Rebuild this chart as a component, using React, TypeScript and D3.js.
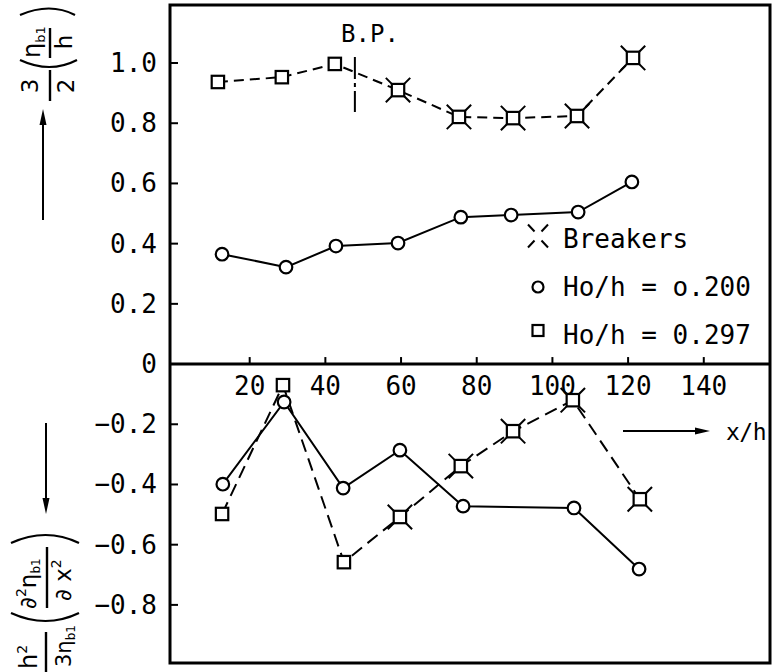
import React from "react";
import * as d3 from "d3";

const W = 772;
const H = 672;

// Upper panel: 3/2 (η_b1 / h) against x/h
const upperCircleX = [12.7, 29.6, 42.8, 59.2, 75.8, 89.1, 106.8, 121.0];
const upperCircleY = [0.365, 0.322, 0.392, 0.402, 0.488, 0.495, 0.505, 0.605];
const upperSquareX = [11.6, 28.5, 42.5, 59.2, 75.3, 89.6, 106.5, 121.3];
const upperSquareY = [0.937, 0.953, 0.997, 0.91, 0.821, 0.817, 0.824, 1.017];
const upperSquareBreaker = [false, false, false, true, true, true, true, true];

// Lower panel: h²/(3η_b1) (∂²η_b1/∂x²) against x/h
const lowerCircleX = [12.9, 29.1, 44.7, 59.7, 76.4, 105.7, 122.9];
const lowerCircleY = [-0.399, -0.126, -0.412, -0.286, -0.472, -0.478, -0.681];
const lowerSquareX = [12.7, 28.8, 44.9, 59.7, 75.8, 89.6, 105.4, 123.1];
const lowerSquareY = [-0.498, -0.07, -0.658, -0.508, -0.339, -0.223, -0.12, -0.449];
const lowerSquareBreaker = [false, false, false, true, true, true, true, true];

const xTicks = [20, 40, 60, 80, 100, 120, 140];
const yTicks = [1.0, 0.8, 0.6, 0.4, 0.2, 0, -0.2, -0.4, -0.6, -0.8];
const breakPointX = 47.8;

const legendItems = ["Breakers", "Ho/h = o.200", "Ho/h = 0.297"];

const FONT = "'DejaVu Sans Mono', monospace";
const SANS = "'DejaVu Sans', sans-serif";

const frame = { left: 170, right: 770, top: 5, bottom: 663 };

const x = d3.scaleLinear().domain([-1.057, 157.5]).range([frame.left, frame.right]);
const y = d3.scaleLinear().domain([-0.993, 1.1927]).range([frame.bottom, frame.top]);

const line = d3
  .line<[number, number]>()
  .x((d) => x(d[0]))
  .y((d) => y(d[1]));

const zip = (xs: number[], ys: number[]): [number, number][] =>
  xs.map((v, i) => [v, ys[i]]);

function Circle({ cx, cy }: { cx: number; cy: number }) {
  return <circle cx={cx} cy={cy} r={6.3} fill="#fff" stroke="#000" strokeWidth={2.2} />;
}

function Square({ cx, cy, breaker }: { cx: number; cy: number; breaker?: boolean }) {
  const s = 6.2;
  return (
    <g>
      <rect x={cx - s} y={cy - s} width={2 * s} height={2 * s} fill="#fff" stroke="#000" strokeWidth={2.2} />
      {breaker &&
        [
          [-1, -1],
          [1, -1],
          [-1, 1],
          [1, 1],
        ].map(([dx, dy], i) => (
          <line
            key={i}
            x1={cx + dx * s}
            y1={cy + dy * s}
            x2={cx + dx * (s + 6)}
            y2={cy + dy * (s + 6)}
            stroke="#000"
            strokeWidth={2}
          />
        ))}
    </g>
  );
}

function BreakerSymbol({ cx, cy }: { cx: number; cy: number }) {
  return (
    <g>
      {[
        [-1, -1],
        [1, -1],
        [-1, 1],
        [1, 1],
      ].map(([dx, dy], i) => (
        <line
          key={i}
          x1={cx + dx * 3.5}
          y1={cy + dy * 4.5}
          x2={cx + dx * 10}
          y2={cy + dy * 11.5}
          stroke="#000"
          strokeWidth={2}
        />
      ))}
    </g>
  );
}

export default function App() {
  const uc = zip(upperCircleX, upperCircleY);
  const us = zip(upperSquareX, upperSquareY);
  const lc = zip(lowerCircleX, lowerCircleY);
  const ls = zip(lowerSquareX, lowerSquareY);
  const fmt = (v: number) => (v === 0 ? "0" : d3.format(".1f")(v));
  const y0 = y(0);

  return (
    <svg
      width={W}
      height={H}
      viewBox={`0 0 ${W} ${H}`}
      style={{ position: "absolute", left: 0, top: 0, background: "#fff" }}
    >
      <rect width={W} height={H} fill="#fff" />

      {/* frame */}
      <rect
        x={frame.left}
        y={frame.top}
        width={frame.right - frame.left}
        height={frame.bottom - frame.top}
        fill="none"
        stroke="#000"
        strokeWidth={3}
      />
      {/* zero line acting as the x axis */}
      <line x1={frame.left} x2={frame.right} y1={y0} y2={y0} stroke="#000" strokeWidth={3} />

      {/* x ticks and labels */}
      {xTicks.map((t) => (
        <g key={t}>
          <line x1={x(t)} x2={x(t)} y1={y0} y2={y0 - 7} stroke="#000" strokeWidth={2} />
          <text x={x(t)} y={y0 + 31} textAnchor="middle" fontFamily={FONT} fontSize={26}>
            {t}
          </text>
        </g>
      ))}

      {/* y ticks and labels */}
      {yTicks.map((t) => (
        <g key={t}>
          {t !== 0 && (
            <line x1={frame.left} x2={frame.left + 8} y1={y(t)} y2={y(t)} stroke="#000" strokeWidth={2} />
          )}
          <text x={157} y={y(t) + 9} textAnchor="end" fontFamily={FONT} fontSize={26}>
            {fmt(t)}
          </text>
        </g>
      ))}

      {/* breaking point marker */}
      <line
        x1={x(breakPointX)}
        x2={x(breakPointX)}
        y1={57}
        y2={112}
        stroke="#000"
        strokeWidth={2}
        strokeDasharray="22,4,4,4"
      />
      <text x={370} y={42} textAnchor="middle" fontFamily={FONT} fontSize={24}>
        B.P.
      </text>

      {/* series lines */}
      <path d={line(us) || ""} fill="none" stroke="#000" strokeWidth={2} strokeDasharray="10,6" />
      <path d={line(uc) || ""} fill="none" stroke="#000" strokeWidth={2} />
      <path d={line(ls) || ""} fill="none" stroke="#000" strokeWidth={2} strokeDasharray="13,7" />
      <path d={line(lc) || ""} fill="none" stroke="#000" strokeWidth={2} />

      {/* markers */}
      {us.map((d, i) => (
        <Square key={`us${i}`} cx={x(d[0])} cy={y(d[1])} breaker={upperSquareBreaker[i]} />
      ))}
      {uc.map((d, i) => (
        <Circle key={`uc${i}`} cx={x(d[0])} cy={y(d[1])} />
      ))}
      {ls.map((d, i) => (
        <Square key={`ls${i}`} cx={x(d[0])} cy={y(d[1])} breaker={lowerSquareBreaker[i]} />
      ))}
      {lc.map((d, i) => (
        <Circle key={`lc${i}`} cx={x(d[0])} cy={y(d[1])} />
      ))}

      {/* legend */}
      <BreakerSymbol cx={538} cy={236} />
      <circle cx={538} cy={287} r={5.5} fill="#fff" stroke="#000" strokeWidth={2.2} />
      <rect x={532.5} y={325} width={11} height={11} fill="#fff" stroke="#000" strokeWidth={2.2} />
      {legendItems.map((t, i) => (
        <text key={t} x={563} y={248 + i * 48} fontFamily={FONT} fontSize={26}>
          {t}
        </text>
      ))}

      {/* x-axis direction label */}
      <line x1={623} x2={698} y1={431} y2={431} stroke="#000" strokeWidth={2} />
      <polygon points="710,431 695,427.5 695,434.5" fill="#000" />
      <text x={726} y={440} fontFamily={FONT} fontSize={23} letterSpacing={-0.5}>
        x/h
      </text>

      {/* upper y-axis label: 3/2 (η_b1/h) */}
      <line x1={43} x2={43} y1={220} y2={122} stroke="#000" strokeWidth={2} />
      <polygon points="43,109 39.5,125 46.5,125" fill="#000" />
      <g transform="translate(50,0) rotate(-90)" fontFamily={SANS}>
        <text x={-86} y={-12} textAnchor="middle" fontSize={23}>3</text>
        <line x1={-101} x2={-70} y1={0} y2={0} stroke="#000" strokeWidth={2.4} />
        <text x={-86} y={24} textAnchor="middle" fontSize={23}>2</text>
        <path d="M-60,-30 Q-74,0 -60,27" fill="none" stroke="#000" strokeWidth={2.2} />
        <text x={-58} y={-10} fontSize={24}>
          η<tspan fontSize={13} dy={5}>b1</tspan>
        </text>
        <line x1={-58} x2={-28} y1={0} y2={0} stroke="#000" strokeWidth={2.4} />
        <text x={-42} y={22} textAnchor="middle" fontSize={23}>h</text>
        <path d="M-15,-30 Q-2,0 -15,25" fill="none" stroke="#000" strokeWidth={2.2} />
      </g>

      {/* lower y-axis label: h²/(3η_b1) (∂²η_b1/∂x²) */}
      <line x1={46} x2={46} y1={423} y2={500} stroke="#000" strokeWidth={2} />
      <polygon points="46,514 42.5,498 49.5,498" fill="#000" />
      <g transform="translate(46,0) rotate(-90)" fontFamily={SANS}>
        <text x={-669} y={-9} fontSize={24}>
          h<tspan fontSize={14} dy={-10}>2</tspan>
        </text>
        <line x1={-674} x2={-632} y1={0} y2={0} stroke="#000" strokeWidth={2.4} />
        <text x={-667} y={25} fontSize={21}>
          3η<tspan fontSize={12} dy={4}>b1</tspan>
        </text>
        <path d="M-613,-35 Q-629,0 -613,33" fill="none" stroke="#000" strokeWidth={2.2} />
        <text x={-609} y={-10} fontSize={23}>
          ∂<tspan fontSize={14} dy={-10}>2</tspan>
          <tspan dy={10}>η</tspan>
          <tspan fontSize={12} dy={4}>b1</tspan>
        </text>
        <line x1={-608} x2={-547} y1={1} y2={1} stroke="#000" strokeWidth={2.4} />
        <text x={-601} y={25} fontSize={23}>
          ∂ x<tspan fontSize={14} dy={-10}>2</tspan>
        </text>
        <path d="M-543,-35 Q-527,0 -543,33" fill="none" stroke="#000" strokeWidth={2.2} />
      </g>
    </svg>
  );
}
